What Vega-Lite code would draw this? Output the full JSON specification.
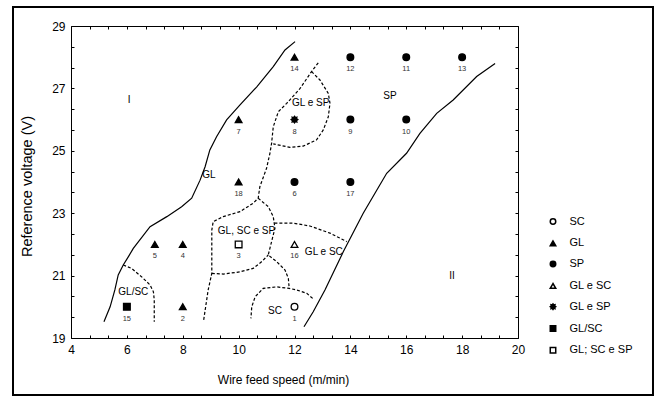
{
  "$schema": "https://vega.github.io/schema/vega-lite/v6.json",
  "width": 447,
  "height": 312,
  "autosize": {"type": "none"},
  "padding": {"left": 71, "top": 26, "right": 139, "bottom": 58},
  "background": "white",
  "config": {
    "font": "Liberation Sans",
    "view": {"stroke": null},
    "axis": {
      "domainColor": "black", "domainWidth": 1,
      "tickColor": "black", "tickSize": -3, "tickWidth": 1,
      "labelColor": "black", "labelFontSize": 12, "labelPadding": 9,
      "labelOverlap": false, "labelFlush": false,
      "titleColor": "black", "titleFontSize": 12, "titleFontWeight": "normal",
      "grid": false
    }
  },
  "datasets": {
    "frame": [{"x0": 1.924, "x1": 24.832, "y0": 29.609, "y1": 17.173}],
    "points": [
      {"id": 1, "x": 12, "y": 20, "type": "SC"},
      {"id": 2, "x": 8, "y": 20, "type": "GL"},
      {"id": 3, "x": 10, "y": 22, "type": "GL; SC e SP"},
      {"id": 4, "x": 8, "y": 22, "type": "GL"},
      {"id": 5, "x": 7, "y": 22, "type": "GL"},
      {"id": 6, "x": 12, "y": 24, "type": "SP"},
      {"id": 7, "x": 10, "y": 26, "type": "GL"},
      {"id": 8, "x": 12, "y": 26, "type": "GL e SP"},
      {"id": 9, "x": 14, "y": 26, "type": "SP"},
      {"id": 10, "x": 16, "y": 26, "type": "SP"},
      {"id": 11, "x": 16, "y": 28, "type": "SP"},
      {"id": 12, "x": 14, "y": 28, "type": "SP"},
      {"id": 13, "x": 18, "y": 28, "type": "SP"},
      {"id": 14, "x": 12, "y": 28, "type": "GL"},
      {"id": 15, "x": 6, "y": 20, "type": "GL/SC"},
      {"id": 16, "x": 12, "y": 22, "type": "GL e SC"},
      {"id": 17, "x": 14, "y": 24, "type": "SP"},
      {"id": 18, "x": 10, "y": 24, "type": "GL"}
    ],
    "regions": [
      {"label": "I", "x": 6.08, "y": 26.63},
      {"label": "SP", "x": 15.42, "y": 26.76},
      {"label": "GL e SP", "x": 12.58, "y": 26.52},
      {"label": "GL", "x": 8.94, "y": 24.22},
      {"label": "GL, SC e SP", "x": 10.28, "y": 22.44},
      {"label": "GL e SC", "x": 13.05, "y": 21.77},
      {"label": "SC", "x": 11.3, "y": 19.88},
      {"label": "GL/SC", "x": 6.23, "y": 20.48},
      {"label": "II", "x": 17.64, "y": 20.99}
    ],
    "solid": [
      {"seg": "L1", "i": 0, "x": 5.18, "y": 19.52},
      {"seg": "L1", "i": 1, "x": 5.4, "y": 20.0},
      {"seg": "L1", "i": 2, "x": 5.57, "y": 20.54},
      {"seg": "L1", "i": 3, "x": 5.69, "y": 21.02},
      {"seg": "L1", "i": 4, "x": 5.87, "y": 21.34},
      {"seg": "L1", "i": 5, "x": 6.05, "y": 21.6},
      {"seg": "L1", "i": 6, "x": 6.23, "y": 21.87},
      {"seg": "L1", "i": 7, "x": 6.83, "y": 22.57},
      {"seg": "L1", "i": 8, "x": 7.43, "y": 22.89},
      {"seg": "L1", "i": 9, "x": 7.96, "y": 23.21},
      {"seg": "L1", "i": 10, "x": 8.32, "y": 23.48},
      {"seg": "L1", "i": 11, "x": 8.62, "y": 24.06},
      {"seg": "L1", "i": 12, "x": 8.8, "y": 24.49},
      {"seg": "L1", "i": 13, "x": 8.97, "y": 25.03},
      {"seg": "L1", "i": 14, "x": 9.21, "y": 25.45},
      {"seg": "L1", "i": 15, "x": 9.57, "y": 25.99},
      {"seg": "L1", "i": 16, "x": 10.05, "y": 26.47},
      {"seg": "L1", "i": 17, "x": 10.65, "y": 27.05},
      {"seg": "L1", "i": 18, "x": 11.24, "y": 27.7},
      {"seg": "L1", "i": 19, "x": 11.66, "y": 28.23},
      {"seg": "L1", "i": 20, "x": 12.02, "y": 28.5},
      {"seg": "L2", "i": 0, "x": 12.34, "y": 19.36},
      {"seg": "L2", "i": 1, "x": 12.67, "y": 19.84},
      {"seg": "L2", "i": 2, "x": 13.09, "y": 20.54},
      {"seg": "L2", "i": 3, "x": 13.75, "y": 21.77},
      {"seg": "L2", "i": 4, "x": 14.46, "y": 23.0},
      {"seg": "L2", "i": 5, "x": 14.88, "y": 23.64},
      {"seg": "L2", "i": 6, "x": 15.3, "y": 24.28},
      {"seg": "L2", "i": 7, "x": 16.01, "y": 24.92},
      {"seg": "L2", "i": 8, "x": 16.49, "y": 25.56},
      {"seg": "L2", "i": 9, "x": 17.09, "y": 26.2},
      {"seg": "L2", "i": 10, "x": 17.68, "y": 26.63},
      {"seg": "L2", "i": 11, "x": 18.52, "y": 27.38},
      {"seg": "L2", "i": 12, "x": 19.18, "y": 27.8}
    ],
    "dashed": [
      {"seg": "D1", "i": 0, "x": 5.87, "y": 21.34},
      {"seg": "D1", "i": 1, "x": 6.17, "y": 21.23},
      {"seg": "D1", "i": 2, "x": 6.53, "y": 20.96},
      {"seg": "D1", "i": 3, "x": 6.83, "y": 20.7},
      {"seg": "D1", "i": 4, "x": 6.95, "y": 20.48},
      {"seg": "D1", "i": 5, "x": 6.98, "y": 20.22},
      {"seg": "D1", "i": 6, "x": 6.98, "y": 19.52},
      {"seg": "D2", "i": 0, "x": 12.85, "y": 27.82},
      {"seg": "D2", "i": 1, "x": 12.61, "y": 27.54},
      {"seg": "D2", "i": 2, "x": 12.2, "y": 27.0},
      {"seg": "D2", "i": 3, "x": 11.72, "y": 26.52},
      {"seg": "D2", "i": 4, "x": 11.42, "y": 26.25},
      {"seg": "D2", "i": 5, "x": 11.24, "y": 25.77},
      {"seg": "D2", "i": 6, "x": 11.18, "y": 25.24},
      {"seg": "D2", "i": 7, "x": 11.12, "y": 24.92},
      {"seg": "D2", "i": 8, "x": 11.0, "y": 24.44},
      {"seg": "D2", "i": 9, "x": 10.76, "y": 23.85},
      {"seg": "D2", "i": 10, "x": 10.7, "y": 23.48},
      {"seg": "D2", "i": 11, "x": 10.52, "y": 23.32},
      {"seg": "D2", "i": 12, "x": 10.05, "y": 23.05},
      {"seg": "D2", "i": 13, "x": 9.45, "y": 22.89},
      {"seg": "D2", "i": 14, "x": 9.09, "y": 22.73},
      {"seg": "D2", "i": 15, "x": 9.04, "y": 22.46},
      {"seg": "D2", "i": 16, "x": 9.04, "y": 21.07},
      {"seg": "D2", "i": 17, "x": 8.91, "y": 20.54},
      {"seg": "D2", "i": 18, "x": 8.74, "y": 19.52},
      {"seg": "D3", "i": 0, "x": 12.61, "y": 27.54},
      {"seg": "D3", "i": 1, "x": 12.91, "y": 27.27},
      {"seg": "D3", "i": 2, "x": 13.21, "y": 26.84},
      {"seg": "D3", "i": 3, "x": 13.27, "y": 26.52},
      {"seg": "D3", "i": 4, "x": 13.21, "y": 26.09},
      {"seg": "D3", "i": 5, "x": 13.03, "y": 25.67},
      {"seg": "D3", "i": 6, "x": 12.79, "y": 25.35},
      {"seg": "D3", "i": 7, "x": 12.31, "y": 25.15},
      {"seg": "D3", "i": 8, "x": 11.84, "y": 25.11},
      {"seg": "D3", "i": 9, "x": 11.24, "y": 25.22},
      {"seg": "D4", "i": 0, "x": 10.7, "y": 23.48},
      {"seg": "D4", "i": 1, "x": 11.06, "y": 23.21},
      {"seg": "D4", "i": 2, "x": 11.24, "y": 22.89},
      {"seg": "D4", "i": 3, "x": 11.3, "y": 22.52},
      {"seg": "D4", "i": 4, "x": 11.18, "y": 22.09},
      {"seg": "D4", "i": 5, "x": 11.06, "y": 21.66},
      {"seg": "D4", "i": 6, "x": 11.36, "y": 21.45},
      {"seg": "D4", "i": 7, "x": 11.66, "y": 21.18},
      {"seg": "D4", "i": 8, "x": 11.78, "y": 20.91},
      {"seg": "D4", "i": 9, "x": 11.81, "y": 20.59},
      {"seg": "D5", "i": 0, "x": 9.04, "y": 21.07},
      {"seg": "D5", "i": 1, "x": 9.45, "y": 21.05},
      {"seg": "D5", "i": 2, "x": 10.05, "y": 21.12},
      {"seg": "D5", "i": 3, "x": 10.52, "y": 21.23},
      {"seg": "D5", "i": 4, "x": 10.83, "y": 21.45},
      {"seg": "D5", "i": 5, "x": 11.06, "y": 21.66},
      {"seg": "D6", "i": 0, "x": 12.65, "y": 20.27},
      {"seg": "D6", "i": 1, "x": 12.44, "y": 20.43},
      {"seg": "D6", "i": 2, "x": 12.08, "y": 20.54},
      {"seg": "D6", "i": 3, "x": 11.81, "y": 20.59},
      {"seg": "D6", "i": 4, "x": 11.36, "y": 20.64},
      {"seg": "D6", "i": 5, "x": 10.88, "y": 20.59},
      {"seg": "D6", "i": 6, "x": 10.59, "y": 20.32},
      {"seg": "D6", "i": 7, "x": 10.47, "y": 20.0},
      {"seg": "D6", "i": 8, "x": 10.44, "y": 19.63},
      {"seg": "D7", "i": 0, "x": 11.28, "y": 22.68},
      {"seg": "D7", "i": 1, "x": 11.96, "y": 22.68},
      {"seg": "D7", "i": 2, "x": 12.55, "y": 22.59},
      {"seg": "D7", "i": 3, "x": 13.27, "y": 22.36},
      {"seg": "D7", "i": 4, "x": 13.87, "y": 22.09}
    ]
  },
  "layer": [
    {
      "data": {"name": "frame"},
      "mark": {"type": "rect", "fill": "white", "fillOpacity": 0, "stroke": "black", "strokeWidth": 2},
      "encoding": {
        "x": {"field": "x0", "type": "quantitative", "scale": {"domain": [4, 20], "nice": false, "zero": false}, "axis": null},
        "x2": {"field": "x1"},
        "y": {"field": "y0", "type": "quantitative", "scale": {"domain": [19, 29], "nice": false, "zero": false}, "axis": null},
        "y2": {"field": "y1"}
      }
    },
    {
      "data": {"name": "solid"},
      "mark": {"type": "line", "color": "black", "strokeWidth": 1.2},
      "encoding": {
        "x": {"field": "x", "type": "quantitative", "scale": {"domain": [4, 20], "nice": false, "zero": false}, "axis": null},
        "y": {"field": "y", "type": "quantitative", "scale": {"domain": [19, 29], "nice": false, "zero": false}, "axis": null},
        "detail": {"field": "seg", "type": "nominal"},
        "order": {"field": "i", "type": "quantitative"}
      }
    },
    {
      "data": {"name": "dashed"},
      "mark": {"type": "line", "color": "black", "strokeWidth": 1.2, "strokeDash": [3, 2]},
      "encoding": {
        "x": {"field": "x", "type": "quantitative", "scale": {"domain": [4, 20], "nice": false, "zero": false}, "axis": null},
        "y": {"field": "y", "type": "quantitative", "scale": {"domain": [19, 29], "nice": false, "zero": false}, "axis": null},
        "detail": {"field": "seg", "type": "nominal"},
        "order": {"field": "i", "type": "quantitative"}
      }
    },
    {
      "data": {"name": "regions"},
      "mark": {"type": "text", "fontSize": 10, "color": "black", "baseline": "middle", "align": "center"},
      "encoding": {
        "x": {"field": "x", "type": "quantitative", "scale": {"domain": [4, 20], "nice": false, "zero": false},
          "axis": {"orient": "top", "labels": false, "title": null,
            "values": [4, 4.6667, 5.3333, 6, 6.6667, 7.3333, 8, 8.6667, 9.3333, 10, 10.6667, 11.3333, 12, 12.6667, 13.3333, 14, 14.6667, 15.3333, 16, 16.6667, 17.3333, 18, 18.6667, 19.3333, 20]}},
        "y": {"field": "y", "type": "quantitative", "scale": {"domain": [19, 29], "nice": false, "zero": false},
          "axis": {"orient": "right", "labels": false, "title": null,
            "values": [19, 19.6667, 20.3333, 21, 21.6667, 22.3333, 23, 23.6667, 24.3333, 25, 25.6667, 26.3333, 27, 27.6667, 28.3333, 29]}},
        "text": {"field": "label", "type": "nominal"}
      }
    },
    {
      "data": {"name": "points"},
      "mark": {"type": "text", "fontSize": 7.5, "color": "#333333", "baseline": "middle", "align": "center", "dy": 12},
      "encoding": {
        "x": {"field": "x", "type": "quantitative", "scale": {"domain": [4, 20], "nice": false, "zero": false}, "axis": null},
        "y": {"field": "y", "type": "quantitative", "scale": {"domain": [19, 29], "nice": false, "zero": false}, "axis": null},
        "text": {"field": "id", "type": "nominal"}
      }
    },
    {
      "data": {"name": "points"},
      "mark": {"type": "point", "size": 45, "stroke": "black", "strokeWidth": 1.3, "opacity": 1, "fillOpacity": 1},
      "encoding": {
        "x": {"field": "x", "type": "quantitative", "scale": {"domain": [4, 20], "nice": false, "zero": false},
          "axis": {"orient": "bottom", "title": "Wire feed speed (m/min)", "titleX": 212, "titleY": 45, "titleBaseline": "alphabetic", "titleAnchor": "middle", "labelOverlap": false,
            "labelExpr": "datum.value % 2 == 0 ? format(datum.value, 'd') : ''",
            "values": [4, 4.6667, 5.3333, 6, 6.6667, 7.3333, 8, 8.6667, 9.3333, 10, 10.6667, 11.3333, 12, 12.6667, 13.3333, 14, 14.6667, 15.3333, 16, 16.6667, 17.3333, 18, 18.6667, 19.3333, 20]}},
        "y": {"field": "y", "type": "quantitative", "scale": {"domain": [19, 29], "nice": false, "zero": false},
          "axis": {"orient": "left", "title": "Reference voltage (V)", "titleX": -44, "titleY": 160, "titleBaseline": "middle", "titleAlign": "center", "titleAngle": -90, "titleFontSize": 14.5, "labelOverlap": false,
            "labelExpr": "datum.value % 2 == 1 ? format(datum.value, 'd') : ''",
            "values": [19, 19.6667, 20.3333, 21, 21.6667, 22.3333, 23, 23.6667, 24.3333, 25, 25.6667, 26.3333, 27, 27.6667, 28.3333, 29]}},
        "shape": {"field": "type", "type": "nominal",
          "scale": {"domain": ["SC", "GL", "SP", "GL e SC", "GL e SP", "GL/SC", "GL; SC e SP"],
            "range": ["circle", "triangle-up", "circle", "triangle-up", "M0,-1L0.3,-0.6L0.707,-0.707L0.6,-0.3L1,0L0.6,0.3L0.707,0.707L0.3,0.6L0,1L-0.3,0.6L-0.707,0.707L-0.6,0.3L-1,0L-0.6,-0.3L-0.707,-0.707L-0.3,-0.6Z", "square", "square"]},
          "legend": {"orient": "none", "legendX": 476.5, "legendY": 190, "title": null, "labelFontSize": 11, "labelColor": "black", "symbolSize": 30, "rowPadding": 8.8, "labelOffset": 11, "padding": 0,
            "encode": {"symbols": {"update": {"stroke": {"value": "black"}, "strokeWidth": {"value": 1.2}}}}}},
        "fill": {"field": "type", "type": "nominal",
          "scale": {"domain": ["SC", "GL", "SP", "GL e SC", "GL e SP", "GL/SC", "GL; SC e SP"],
            "range": ["white", "black", "black", "white", "black", "black", "white"]},
          "legend": {"orient": "none", "legendX": 476.5, "legendY": 190, "title": null, "labelFontSize": 11, "labelColor": "black", "symbolSize": 30, "rowPadding": 8.8, "labelOffset": 11, "padding": 0,
            "encode": {"symbols": {"update": {"stroke": {"value": "black"}, "strokeWidth": {"value": 1.2}}}}}}
      }
    }
  ],
  "resolve": {"scale": {"x": "independent", "y": "independent"}, "axis": {"x": "independent", "y": "independent"}}
}
